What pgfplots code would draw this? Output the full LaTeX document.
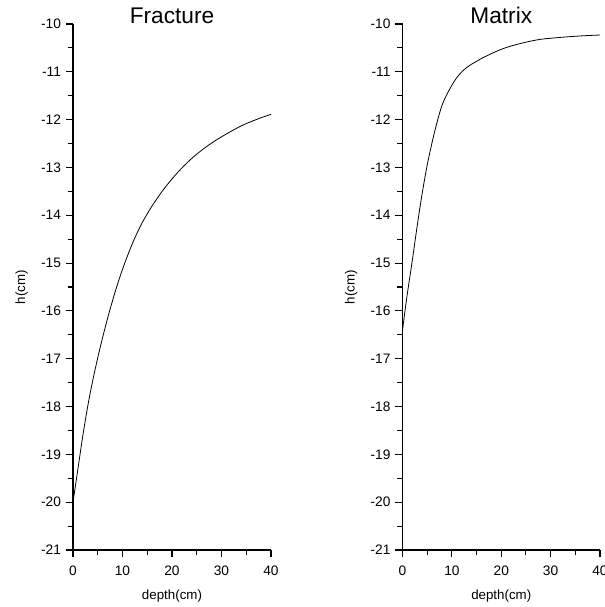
\documentclass[border=0pt]{standalone}
\usepackage{fontspec}
\setmainfont{Liberation Sans}
\usepackage{pgfplots}
\pgfplotsset{compat=1.18}

% pressure head profiles, fracture and matrix domains
\pgfplotsset{
  headaxis/.style={
    scale only axis,
    width=148.5pt, height=394.5pt,
    xmin=0, xmax=40, ymin=-21, ymax=-10,
    xtick={0,10,20,30,40},
    ytick={-21,-20,-19,-18,-17,-16,-15,-14,-13,-12,-11,-10},
    minor x tick num=1, minor y tick num=1,
    axis x line=bottom, axis y line=left,
    axis line style={-, line width=1.4pt},
    tick align=outside,
    major tick length=5.5pt, minor tick length=4pt,
    every tick/.style={black, line width=0.8pt},
    tick label style={font=\fontsize{10.3}{12}\selectfont},
    xticklabel shift=3pt,
    /pgf/number format/assume math mode=true,
    xlabel={depth(cm)}, ylabel={h(cm)},
    xlabel shift=3.75pt, ylabel shift=3pt,
    label style={font=\fontsize{10}{12}\selectfont},
    clip=false,
  },
}
\tikzset{paneltitle/.style={font=\fontsize{17}{20}\selectfont, anchor=base}}

\begin{document}
\begin{tikzpicture}
\path[use as bounding box] (0,0) rectangle (453.75pt,455.25pt);

\begin{axis}[headaxis, at={(54.75pt,42.75pt)}, anchor=south west]
\addplot[black, line width=0.6pt, smooth] coordinates {
  (0,-20.00) (1,-19.30) (2,-18.60) (3,-17.98) (4,-17.45) (5,-16.98)
  (6,-16.55) (7,-16.15) (8,-15.78) (9,-15.44) (10,-15.13) (11,-14.85)
  (12,-14.59) (13,-14.36) (14,-14.15) (15,-13.97) (16,-13.80) (18,-13.50)
  (20,-13.24) (22,-13.01) (24,-12.81) (26,-12.64) (28,-12.49) (30,-12.36)
  (32,-12.24) (34,-12.13) (36,-12.04) (38,-11.96) (40,-11.89)
};
\node[paneltitle] at (rel axis cs:0.5,1) {Fracture};
\end{axis}

\begin{axis}[headaxis, at={(301.9pt,42.75pt)}, anchor=south west, width=148.1pt]
\addplot[black, line width=0.6pt, smooth] coordinates {
  (0,-16.40) (0.5,-16.00) (1,-15.62) (2,-14.93) (3,-14.20) (4,-13.53)
  (5,-12.95) (6,-12.47) (7,-12.05) (8,-11.70) (9,-11.47) (10,-11.28)
  (11,-11.12) (12,-11.00) (13,-10.91) (14,-10.84) (15,-10.78) (16,-10.72)
  (18,-10.62) (20,-10.53) (22,-10.46) (25,-10.38) (28,-10.32) (32,-10.28)
  (36,-10.25) (40,-10.23)
};
\node[paneltitle] at (rel axis cs:0.5,1) {Matrix};
\end{axis}
\end{tikzpicture}
\end{document}
